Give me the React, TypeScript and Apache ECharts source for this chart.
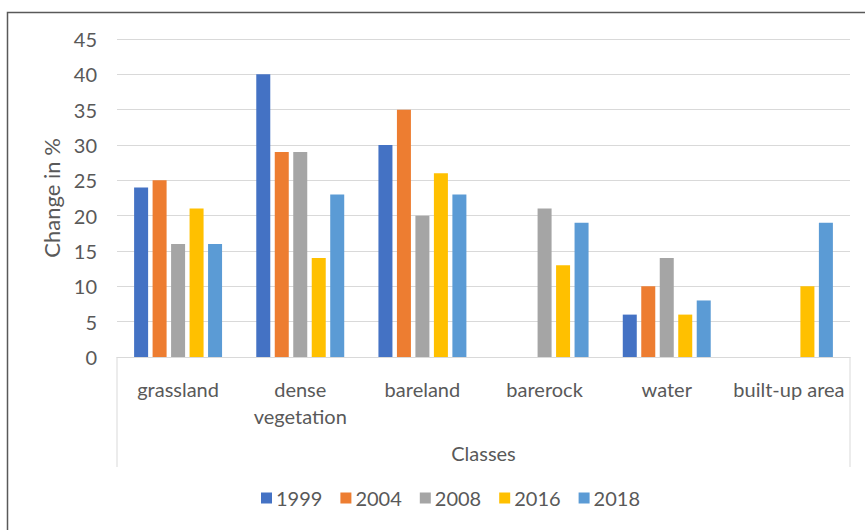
import React, { useEffect, useRef } from "react";
import * as echarts from "echarts";

const categories = ["grassland", "dense\nvegetation", "bareland", "barerock", "water", "built-up area"];
const years = ["1999", "2004", "2008", "2016", "2018"];
const s1999 = [24, 40, 30, null, 6, null];
const s2004 = [25, 29, 35, null, 10, null];
const s2008 = [16, 29, 20, 21, 14, null];
const s2016 = [21, 14, 26, 13, 6, 10];
const s2018 = [16, 23, 23, 19, 8, 19];
const seriesData = [s1999, s2004, s2008, s2016, s2018];
const colors = ["#4472C4", "#ED7D31", "#A5A5A5", "#FFC000", "#5B9BD5"];
const yTicks = { min: 0, max: 45, interval: 5 };

const FONT = "Lato";
const TXT = "#595959";

export default function App() {
  const ref = useRef<HTMLDivElement>(null);
  useEffect(() => {
    const chart = echarts.init(ref.current!, null, { renderer: "svg" });
    chart.setOption({
      animation: false,
      backgroundColor: "#ffffff",
      textStyle: { fontFamily: FONT, color: TXT },
      grid: { left: 117, right: 15, top: 39, bottom: 173, containLabel: false },
      legend: {
        bottom: 17,
        left: 256,
        itemWidth: 11,
        itemHeight: 11,
        itemGap: 18,
        icon: "rect",
        textStyle: { fontFamily: FONT, fontSize: 20, color: TXT, padding: [0, 0, 0, -1] },
        data: years,
      },
      xAxis: {
        type: "category",
        data: categories,
        axisLine: { show: true, lineStyle: { color: "#D9D9D9", width: 1 } },
        axisTick: { show: false },
        axisLabel: { fontFamily: FONT, fontSize: 20, color: TXT, margin: 18, lineHeight: 27, interval: 0 },
        name: "Classes",
        nameLocation: "middle",
        nameGap: 86,
        nameTextStyle: { fontFamily: FONT, fontSize: 20, color: TXT },
      },
      yAxis: {
        type: "value",
        min: yTicks.min,
        max: yTicks.max,
        interval: yTicks.interval,
        axisLine: { show: false },
        axisTick: { show: false },
        splitLine: { lineStyle: { color: "#D9D9D9", width: 1 } },
        axisLabel: { fontFamily: FONT, fontSize: 20, color: TXT, margin: 20 },
        name: "Change in %",
        nameLocation: "middle",
        nameGap: 51,
        nameRotate: 90,
        nameTextStyle: { fontFamily: FONT, fontSize: 22, color: TXT },
      },
      series: years.map((y, i) => ({
        name: y,
        type: "bar",
        data: seriesData[i],
        itemStyle: { color: colors[i] },
        barGap: "32%",
        barCategoryGap: "28%",
      })),
      graphic: [
        {
          type: "rect",
          shape: { x: 7.5, y: 12.5, width: 900, height: 600 },
          style: { fill: "none", stroke: "#595959", lineWidth: 1.5 },
          silent: true,
        },
        {
          type: "line",
          shape: { x1: 117, y1: 357, x2: 117, y2: 467 },
          style: { stroke: "#D9D9D9", lineWidth: 1 },
          silent: true,
        },
        {
          type: "line",
          shape: { x1: 850, y1: 357, x2: 850, y2: 467 },
          style: { stroke: "#D9D9D9", lineWidth: 1 },
          silent: true,
        },
      ],
    });
    return () => chart.dispose();
  }, []);
  return (
    <div
      ref={ref}
      style={{ position: "absolute", left: 0, top: 0, width: 865, height: 530 }}
    />
  );
}
